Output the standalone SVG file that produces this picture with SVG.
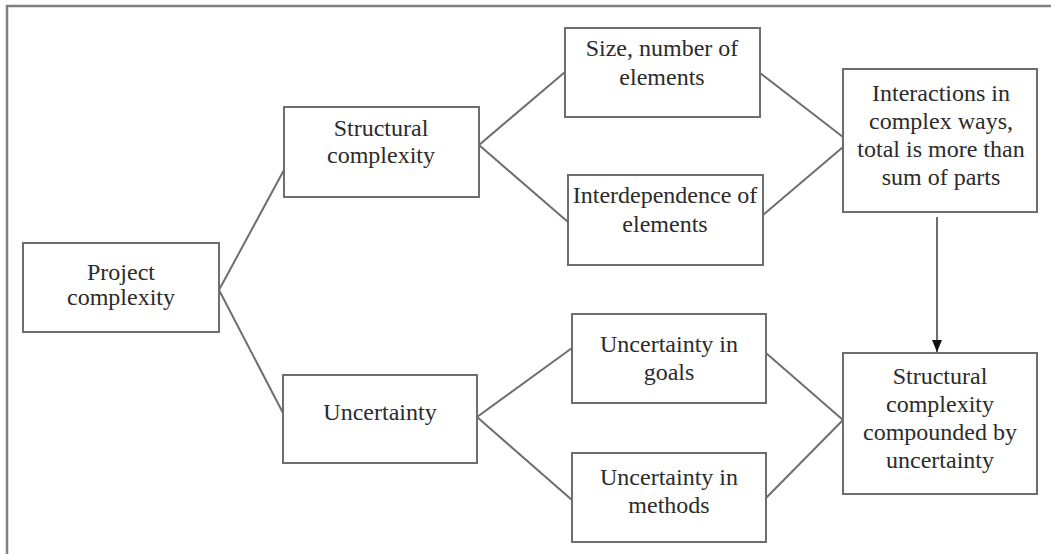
<svg xmlns="http://www.w3.org/2000/svg" width="1051" height="554" viewBox="0 0 1051 554">
  <style>
    .box { fill: #ffffff; stroke: #6e6e6e; stroke-width: 2; }
    .lbl { font-family: "Liberation Serif", "Times New Roman", serif; font-size: 24px; fill: #2b2b2b; text-anchor: middle; }
    .conn { stroke: #6e6e6e; stroke-width: 2; fill: none; }
    .frame { stroke: #808080; stroke-width: 2.5; fill: none; }
  </style>
  <defs>
    <marker id="arrowhead" markerWidth="12" markerHeight="10" refX="12" refY="5" orient="auto" markerUnits="userSpaceOnUse" viewBox="0 0 12 10">
      <path d="M0,0 L12,5 L0,10 Z" fill="#111111"/>
    </marker>
  </defs>
  <rect width="1051" height="554" fill="#ffffff"/>
  <!-- outer frame: top and left rules -->
  <path class="frame" d="M7,554 L7,6 L1051,6"/>

  <g id="connectors">
    <line class="conn" x1="219" y1="290" x2="284" y2="170"/>
    <line class="conn" x1="219" y1="290" x2="283" y2="413"/>
    <line class="conn" x1="479" y1="145" x2="565" y2="72"/>
    <line class="conn" x1="479" y1="145" x2="568" y2="222"/>
    <line class="conn" x1="760" y1="73" x2="843" y2="137"/>
    <line class="conn" x1="763" y1="215" x2="843" y2="147"/>
    <line class="conn" x1="477" y1="417" x2="572" y2="348"/>
    <line class="conn" x1="477" y1="417" x2="572" y2="500"/>
    <line class="conn" x1="766" y1="353" x2="843" y2="420"/>
    <line class="conn" x1="766" y1="498" x2="843" y2="420"/>
    <line class="conn" x1="937" y1="217" x2="937" y2="352" marker-end="url(#arrowhead)"/>
  </g>

  <g id="project-complexity">
    <rect class="box" x="23" y="243" width="196" height="89"/>
    <text class="lbl" x="121" y="280">Project</text>
    <text class="lbl" x="121" y="305">complexity</text>
  </g>

  <g id="structural-complexity">
    <rect class="box" x="284" y="107" width="195" height="90"/>
    <text class="lbl" x="381" y="136">Structural</text>
    <text class="lbl" x="381" y="163">complexity</text>
  </g>

  <g id="uncertainty">
    <rect class="box" x="283" y="375" width="194" height="88"/>
    <text class="lbl" x="380" y="420">Uncertainty</text>
  </g>

  <g id="size-elements">
    <rect class="box" x="565" y="28" width="195" height="89"/>
    <text class="lbl" x="662" y="56">Size, number of</text>
    <text class="lbl" x="662" y="85">elements</text>
  </g>

  <g id="interdependence">
    <rect class="box" x="568" y="175" width="195" height="90"/>
    <text class="lbl" x="665" y="203">Interdependence of</text>
    <text class="lbl" x="665" y="232">elements</text>
  </g>

  <g id="uncertainty-goals">
    <rect class="box" x="572" y="314" width="194" height="89"/>
    <text class="lbl" x="669" y="352">Uncertainty in</text>
    <text class="lbl" x="669" y="380">goals</text>
  </g>

  <g id="uncertainty-methods">
    <rect class="box" x="572" y="453" width="194" height="89"/>
    <text class="lbl" x="669" y="485">Uncertainty in</text>
    <text class="lbl" x="669" y="513">methods</text>
  </g>

  <g id="interactions">
    <rect class="box" x="843" y="69" width="194" height="143"/>
    <text class="lbl" x="941" y="101">Interactions in</text>
    <text class="lbl" x="941" y="129">complex ways,</text>
    <text class="lbl" x="941" y="157">total is more than</text>
    <text class="lbl" x="941" y="185">sum of parts</text>
  </g>

  <g id="compounded">
    <rect class="box" x="843" y="353" width="194" height="141"/>
    <text class="lbl" x="940" y="384">Structural</text>
    <text class="lbl" x="940" y="412">complexity</text>
    <text class="lbl" x="940" y="440">compounded by</text>
    <text class="lbl" x="940" y="468">uncertainty</text>
  </g>
</svg>
